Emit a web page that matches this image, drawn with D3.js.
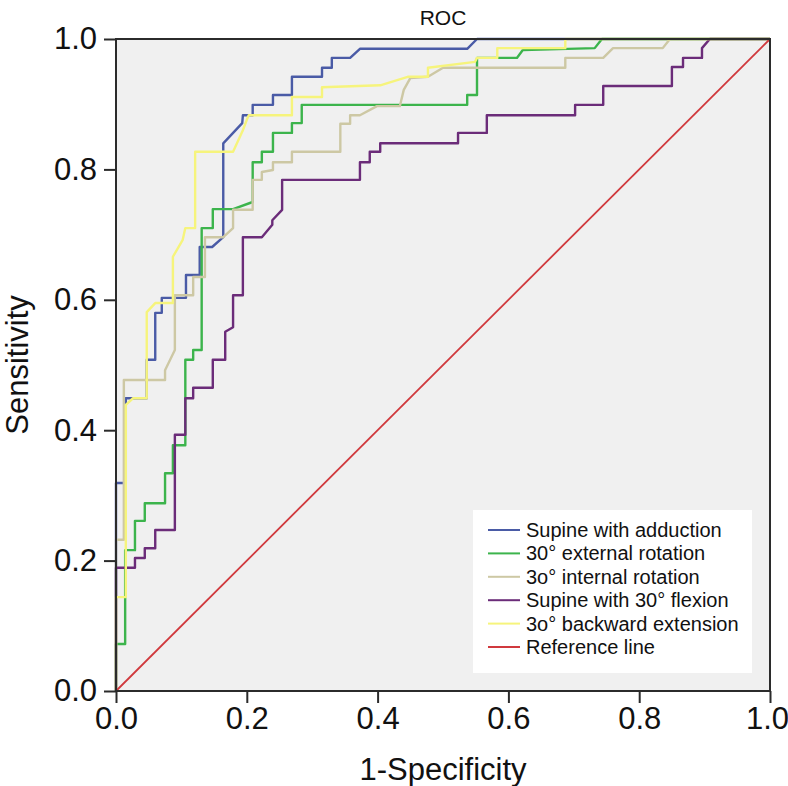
<!DOCTYPE html>
<html>
<head>
<meta charset="utf-8">
<script src="https://cdn.jsdelivr.net/npm/d3@7"></script>
<style>
  html, body { margin: 0; padding: 0; background: #fff; }
  svg text { font-family: "Liberation Sans", Arial, Helvetica, sans-serif; }
</style>
</head>
<body>
<svg id="chart" width="788" height="786"></svg>
<script>
// ---- data (1-Specificity, Sensitivity) ----
const seriesNames = ["Supine with adduction", "30° external rotation", "3o° internal rotation",
                     "Supine with 30° flexion", "3o° backward extension", "Reference line"];
const tickValues = [0, 0.2, 0.4, 0.6, 0.8, 1.0];

const adduction = [[0,0],[0,0.319],[0.015,0.319],[0.015,0.449],[0.047,0.449],[0.047,0.508],[0.060,0.508],[0.060,0.580],[0.070,0.580],[0.070,0.603],[0.107,0.603],[0.107,0.638],[0.128,0.638],[0.128,0.681],[0.147,0.681],[0.164,0.696],[0.164,0.840],[0.193,0.871],[0.194,0.883],[0.209,0.883],[0.209,0.899],[0.240,0.899],[0.240,0.914],[0.269,0.914],[0.269,0.942],[0.315,0.942],[0.315,0.956],[0.330,0.956],[0.330,0.971],[0.358,0.971],[0.373,0.985],[0.537,0.985],[0.552,1],[1,1]];

const externalRot = [[0,0],[0,0.072],[0.014,0.072],[0.014,0.216],[0.029,0.216],[0.029,0.261],[0.044,0.261],[0.044,0.288],[0.075,0.288],[0.075,0.334],[0.087,0.334],[0.087,0.377],[0.106,0.377],[0.106,0.508],[0.118,0.508],[0.118,0.523],[0.131,0.523],[0.131,0.710],[0.148,0.710],[0.148,0.739],[0.179,0.739],[0.209,0.750],[0.209,0.811],[0.223,0.811],[0.223,0.827],[0.240,0.827],[0.240,0.856],[0.269,0.856],[0.269,0.871],[0.284,0.871],[0.284,0.899],[0.537,0.899],[0.537,0.914],[0.552,0.914],[0.552,0.971],[0.613,0.971],[0.622,0.983],[0.732,0.986],[0.743,1],[1,1]];

const internalRot = [[0,0],[0,0.232],[0.012,0.232],[0.012,0.477],[0.075,0.477],[0.075,0.492],[0.090,0.523],[0.090,0.607],[0.118,0.607],[0.118,0.635],[0.136,0.635],[0.136,0.696],[0.164,0.696],[0.179,0.710],[0.179,0.738],[0.209,0.738],[0.209,0.784],[0.223,0.784],[0.223,0.796],[0.240,0.799],[0.240,0.811],[0.269,0.811],[0.269,0.827],[0.343,0.827],[0.343,0.870],[0.358,0.870],[0.358,0.883],[0.373,0.883],[0.399,0.897],[0.434,0.897],[0.440,0.922],[0.450,0.940],[0.477,0.942],[0.500,0.956],[0.687,0.956],[0.687,0.971],[0.745,0.971],[0.760,0.986],[0.836,0.986],[0.847,1],[1,1]];

const flexion = [[0,0],[0,0.189],[0.029,0.189],[0.029,0.204],[0.044,0.204],[0.044,0.219],[0.060,0.219],[0.060,0.247],[0.090,0.247],[0.090,0.393],[0.106,0.393],[0.106,0.449],[0.118,0.449],[0.118,0.465],[0.148,0.465],[0.148,0.508],[0.167,0.508],[0.167,0.551],[0.179,0.558],[0.179,0.607],[0.194,0.607],[0.194,0.696],[0.223,0.696],[0.239,0.715],[0.239,0.722],[0.254,0.738],[0.254,0.784],[0.373,0.784],[0.373,0.811],[0.388,0.811],[0.388,0.827],[0.404,0.827],[0.404,0.840],[0.523,0.840],[0.523,0.856],[0.567,0.856],[0.567,0.883],[0.702,0.883],[0.702,0.899],[0.745,0.899],[0.745,0.928],[0.850,0.928],[0.850,0.957],[0.867,0.957],[0.867,0.971],[0.896,0.971],[0.896,0.986],[0.908,1],[1,1]];

const backwardExt = [[0,0],[0,0.144],[0.015,0.144],[0.015,0.439],[0.026,0.449],[0.047,0.449],[0.047,0.581],[0.060,0.595],[0.087,0.595],[0.087,0.666],[0.102,0.692],[0.106,0.710],[0.121,0.710],[0.121,0.827],[0.179,0.827],[0.194,0.860],[0.200,0.876],[0.203,0.883],[0.269,0.883],[0.269,0.911],[0.315,0.911],[0.315,0.926],[0.404,0.929],[0.446,0.942],[0.477,0.942],[0.477,0.956],[0.549,0.965],[0.552,0.971],[0.583,0.971],[0.583,0.986],[0.687,0.986],[0.687,1],[1,1]];

const referenceLine = [[0,0],[1,1]];

const seriesData = [adduction, externalRot, internalRot, flexion, backwardExt, referenceLine];
const seriesColors = ["#4a5ba6", "#3cb44c", "#cdc8a4", "#6b2c79", "#f6f47c", "#d0393d"];

// ---- layout ----
const svg = d3.select("#chart");
const plotL = 116, plotR = 770, plotT = 39, plotB = 691;
const x = d3.scaleLinear().domain([0, 1]).range([plotL, plotR]);
const y = d3.scaleLinear().domain([0, 1]).range([plotB, plotT]);

// plot background
svg.append("rect")
  .attr("x", plotL).attr("y", plotT)
  .attr("width", plotR - plotL).attr("height", plotB - plotT)
  .attr("fill", "#f0f0f0");

// lines
const line = d3.line().x(d => x(d[0])).y(d => y(d[1]));
seriesData.forEach((data, i) => {
  svg.append("path")
    .datum(data)
    .attr("d", line)
    .attr("fill", "none")
    .attr("stroke", seriesColors[i])
    .attr("stroke-width", i === 5 ? 1.8 : 2.4)
    .attr("stroke-linejoin", "round");
});

// frame
svg.append("rect")
  .attr("x", plotL).attr("y", plotT)
  .attr("width", plotR - plotL).attr("height", plotB - plotT)
  .attr("fill", "none")
  .attr("stroke", "#2b2b2b")
  .attr("stroke-width", 2);

// axes
const fmt = d3.format(".1f");
const yAxis = svg.append("g")
  .attr("transform", `translate(${plotL},0)`)
  .call(d3.axisLeft(y).tickValues(tickValues).tickFormat(fmt).tickSize(12).tickPadding(7));
const xAxis = svg.append("g")
  .attr("transform", `translate(0,${plotB})`)
  .call(d3.axisBottom(x).tickValues(tickValues).tickFormat(fmt).tickSize(12).tickPadding(4));
[xAxis, yAxis].forEach(g => {
  g.select(".domain").remove();
  g.selectAll(".tick line").attr("stroke", "#2b2b2b").attr("stroke-width", 2);
  g.selectAll(".tick text")
    .attr("fill", "#111")
    .style("font-size", "31px")
    .style("font-family", "'Liberation Sans', Arial, sans-serif");
});
// keep the last x label inside the picture
xAxis.selectAll(".tick text").filter(d => d === 1).attr("dx", -3);

// titles
svg.append("text")
  .attr("x", (plotL + plotR) / 2).attr("y", 25)
  .attr("text-anchor", "middle")
  .style("font-size", "21px").attr("fill", "#111")
  .text("ROC");

svg.append("text")
  .attr("x", (plotL + plotR) / 2).attr("y", 780)
  .attr("text-anchor", "middle")
  .style("font-size", "31px").attr("fill", "#111")
  .text("1-Specificity");

svg.append("text")
  .attr("transform", `translate(28,${(plotT + plotB) / 2}) rotate(-90)`)
  .attr("text-anchor", "middle")
  .style("font-size", "31px").attr("fill", "#111")
  .text("Sensitivity");

// legend
const lg = svg.append("g");
lg.append("rect")
  .attr("x", 473).attr("y", 510)
  .attr("width", 279).attr("height", 163)
  .attr("fill", "#ffffff");
seriesNames.forEach((name, i) => {
  const yy = 530 + i * 23.4;
  lg.append("line")
    .attr("x1", 488).attr("x2", 520)
    .attr("y1", yy).attr("y2", yy)
    .attr("stroke", seriesColors[i]).attr("stroke-width", 2);
  lg.append("text")
    .attr("x", 526).attr("y", yy).attr("dy", "0.35em")
    .style("font-size", "20px").attr("fill", "#111")
    .text(name);
});
</script>
</body>
</html>
